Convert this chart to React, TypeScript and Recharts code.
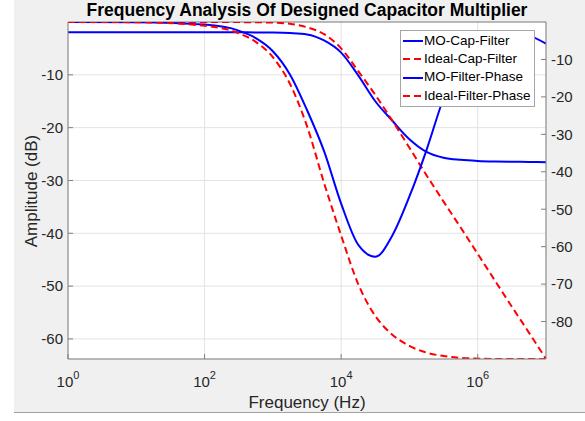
import { LineChart, Line, XAxis, YAxis, CartesianGrid, Legend, ReferenceLine } from 'recharts';

const FONT = '"Liberation Sans", Arial, Helvetica, sans-serif';
const BLUE = '#0000ff';
const RED = '#ff0000';
const AXIS = '#808080';
const TEXT = '#262626';

// frequency grid (Hz), quarter decades
const freqHz = [
  1, 10, 100, 316, 562, 1000, 1778, 3162, 5623, 10000, 17783, 31623, 56234,
  100000, 177828, 316228, 562341, 1000000, 1778279, 3162278, 5623413, 10000000,
];

// amplitude, left axis (dB)
const moCapDb = [
  -1.93, -1.93, -1.94, -1.95, -1.97, -2.0, -2.1, -2.35, -3.5, -5.8, -10.1, -15.0, -18.7,
  -22.2, -24.6, -25.7, -26.1, -26.3, -26.4, -26.45, -26.5, -26.55,
];
const idealCapDb = [
  0, 0, 0, -0.02, -0.05, -0.1, -0.35, -1.0, -2.3, -5.0, -9.3, -13.8, -18.7,
  -23.8, -29.0, -34.0, -38.9, -43.9, -48.9, -53.9, -58.8, -63.8,
];

// phase, right axis (deg)
const moPhaseDeg = [
  0, -0.1, -0.7, -2.3, -4.3, -7.8, -14, -23.5, -34.5, -48.5, -59.5, -62.7, -57,
  -46.6, -34.2, -20.3, -9.5, -5.2, -3.7, -3.2, -3.7, -5.8,
];
const idealPhaseDeg = [
  0, -0.05, -1.0, -3.0, -5.3, -9.4, -16.5, -27.8, -43, -57, -70, -78.5, -83.5,
  -86.5, -88.3, -89.2, -89.7, -89.9, -90, -90, -90, -90,
];

const xTicks = [1, 100, 10000, 1000000];
const leftTicks = [-60, -50, -40, -30, -20, -10];
const rightTicks = [-80, -70, -60, -50, -40, -30, -20, -10];

const data = freqHz.map((f, i) => ({
  f,
  moCap: moCapDb[i],
  idealCap: idealCapDb[i],
  moPhase: moPhaseDeg[i],
  idealPhase: idealPhaseDeg[i],
}));

const legendItems = [
  { name: 'MO-Cap-Filter', color: BLUE, dash: undefined },
  { name: 'Ideal-Cap-Filter', color: RED, dash: '7 4' },
  { name: 'MO-Filter-Phase', color: BLUE, dash: undefined },
  { name: 'Ideal-Filter-Phase', color: RED, dash: '7 4' },
];

function PowerTick({ x, y, payload }: any) {
  const exp = Math.round(Math.log10(payload.value));
  return (
    <text x={x} y={y + 23} textAnchor="middle" fill={TEXT} fontSize={15} fontFamily={FONT}>
      10<tspan dy={-8.5} fontSize={11}>{exp}</tspan>
    </text>
  );
}

function LegendBox() {
  return (
    <div
      style={{
        background: '#fff',
        border: '1px solid #a6a6a6',
        padding: '1px 3px 1px 1px',
        fontFamily: FONT,
        fontSize: 13.5,
        color: '#000',
        lineHeight: '18.2px',
      }}
    >
      {legendItems.map((it) => (
        <div key={it.name} style={{ display: 'flex', alignItems: 'center', whiteSpace: 'nowrap' }}>
          <svg width={21} height={10} style={{ marginRight: 1 }}>
            <line x1={1} x2={21} y1={5} y2={5} stroke={it.color} strokeWidth={2} strokeDasharray={it.dash} />
          </svg>
          <span>{it.name}</span>
        </div>
      ))}
    </div>
  );
}

export default function App() {
  return (
    <div style={{ position: 'absolute', left: 0, top: 0, width: 585, height: 421, background: '#fff' }}>
      <div
        style={{
          position: 'absolute',
          left: 14,
          top: 0,
          width: 571,
          height: 412,
          background: '#f0f0f0',
          borderBottom: '1px solid #a0a0a0',
        }}
      />
      <div style={{ position: 'absolute', left: 0, top: 0 }}>
        <LineChart width={585} height={421} data={data} margin={{ top: 22, right: 0, bottom: 0, left: 0 }}>
          <CartesianGrid yAxisId="left" stroke="#e3e3e3" fill="#ffffff" />
          <XAxis
            dataKey="f"
            type="number"
            scale="log"
            domain={[1, 10000000]}
            ticks={xTicks}
            allowDataOverflow
            height={62}
            stroke={AXIS}
            tickSize={-5}
            tickMargin={10}
            tick={<PowerTick />}
          />
          <YAxis
            yAxisId="left"
            orientation="left"
            type="number"
            domain={[-63.8, 0]}
            ticks={leftTicks}
            allowDataOverflow
            width={68}
            stroke={AXIS}
            tickSize={-5}
            tickMargin={10}
            tick={{ fill: TEXT, fontSize: 15, fontFamily: FONT }}
          />
          <YAxis
            yAxisId="right"
            orientation="right"
            type="number"
            domain={[-90, 0]}
            ticks={rightTicks}
            allowDataOverflow
            width={39}
            stroke={AXIS}
            tickSize={-5}
            tickMargin={10}
            tick={{ fill: TEXT, fontSize: 15, fontFamily: FONT }}
          />
          <ReferenceLine yAxisId="left" y={0} stroke={AXIS} />
          <Line
            yAxisId="left"
            type="monotone"
            dataKey="moCap"
            name="MO-Cap-Filter"
            stroke={BLUE}
            strokeWidth={2}
            dot={false}
            isAnimationActive={false}
          />
          <Line
            yAxisId="left"
            type="monotone"
            dataKey="idealCap"
            name="Ideal-Cap-Filter"
            stroke={RED}
            strokeWidth={2}
            strokeDasharray="7 4"
            dot={false}
            isAnimationActive={false}
          />
          <Line
            yAxisId="right"
            type="monotone"
            dataKey="moPhase"
            name="MO-Filter-Phase"
            stroke={BLUE}
            strokeWidth={2}
            dot={false}
            isAnimationActive={false}
          />
          <Line
            yAxisId="right"
            type="monotone"
            dataKey="idealPhase"
            name="Ideal-Filter-Phase"
            stroke={RED}
            strokeWidth={2}
            strokeDasharray="7 4"
            dot={false}
            isAnimationActive={false}
          />
          <Legend
            layout="vertical"
            align="center"
            verticalAlign="middle"
            wrapperStyle={{ left: 400, top: 30, width: 'auto' }}
            content={() => <LegendBox />}
          />
        </LineChart>
      </div>
      <svg
        width={585}
        height={421}
        style={{ position: 'absolute', left: 0, top: 0, pointerEvents: 'none' }}
      >
        <text x={307} y={15.5} textAnchor="middle" fontFamily={FONT} fontSize={17.5} fontWeight="bold" fill="#000">
          Frequency Analysis Of Designed Capacitor Multiplier
        </text>
        <text x={307} y={408} textAnchor="middle" fontFamily={FONT} fontSize={17} fill={TEXT}>
          Frequency (Hz)
        </text>
        <text
          x={36.5}
          y={191}
          textAnchor="middle"
          fontFamily={FONT}
          fontSize={17}
          fill={TEXT}
          transform="rotate(-90 36.5 191)"
        >
          Amplitude (dB)
        </text>
      </svg>
    </div>
  );
}
